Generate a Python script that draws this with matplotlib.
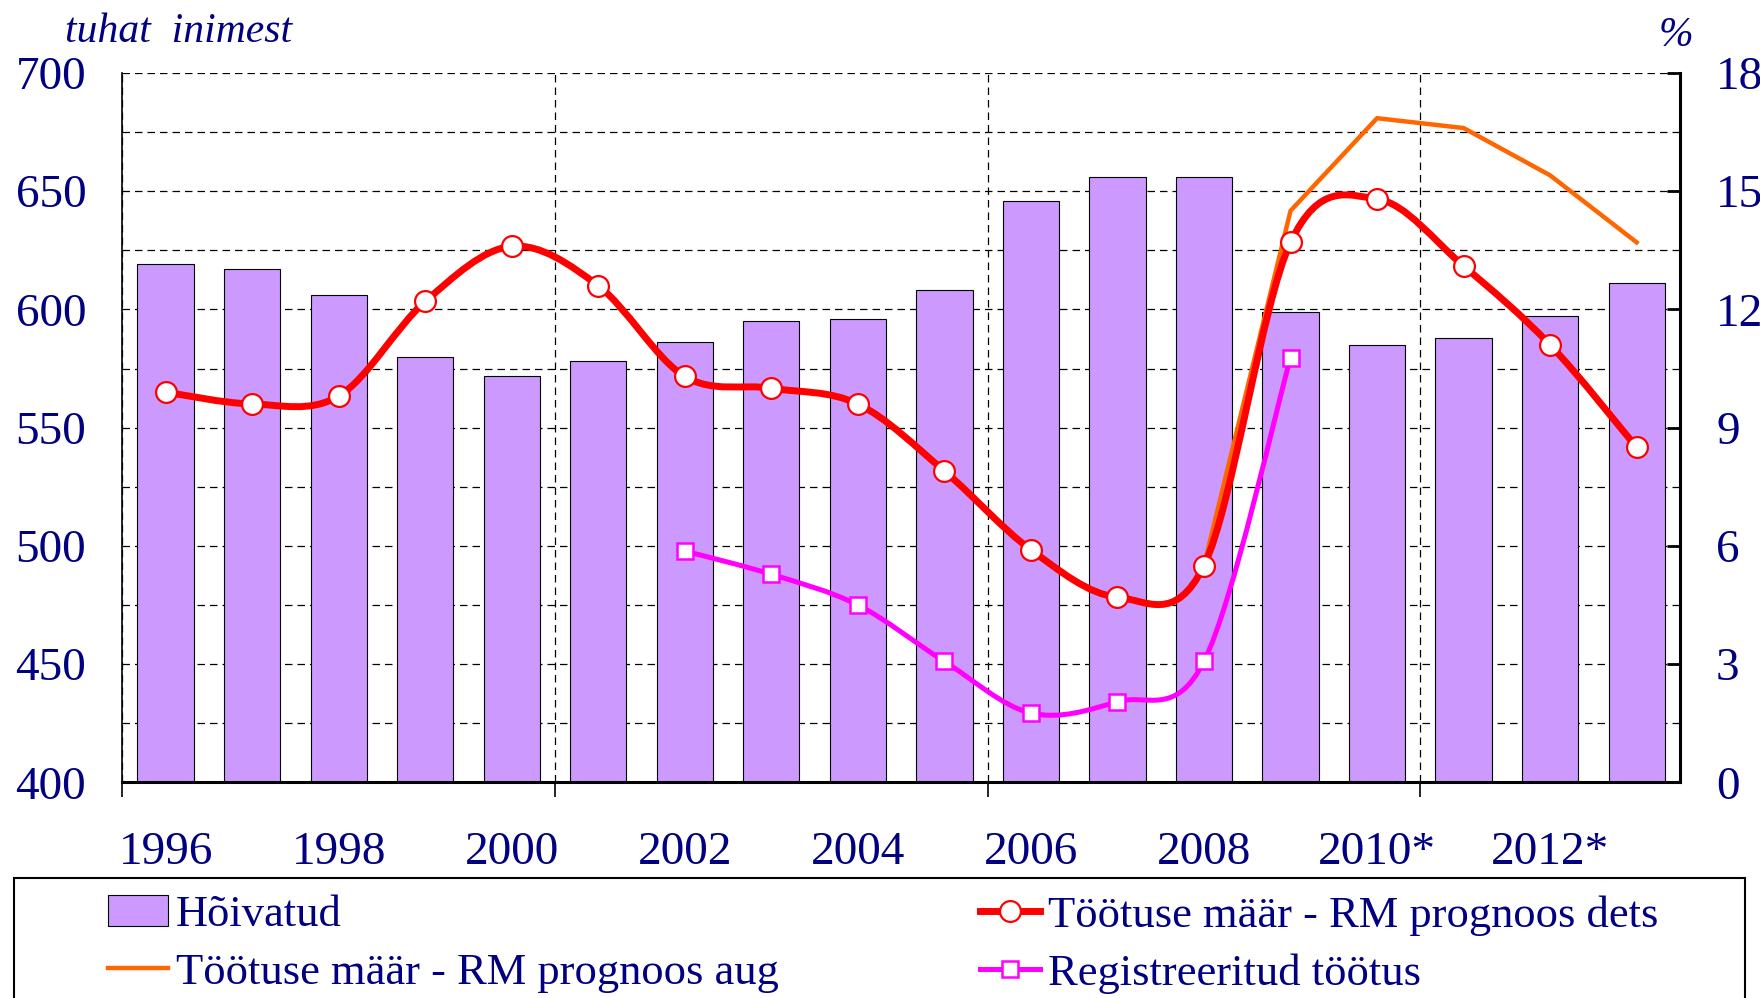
import numpy as np
import matplotlib
matplotlib.use('Agg')
import matplotlib.pyplot as plt
from matplotlib.path import Path
from matplotlib.patches import PathPatch, Rectangle
from matplotlib.lines import Line2D
from matplotlib.ticker import MultipleLocator, FixedLocator

plt.rcParams['font.family'] = ['Liberation Serif', 'DejaVu Serif']

# data
years = list(range(1996, 2014))
year_labels = ['1996', '', '1998', '', '2000', '', '2002', '', '2004', '',
               '2006', '', '2008', '', '2010*', '', '2012*', '']
employed = [619, 617, 606, 580, 572, 578, 586, 595, 596, 608,
            646, 656, 656, 599, 585, 588, 597, 611]            # tuhat inimest
unemp_dec = [9.9, 9.6, 9.8, 12.2, 13.6, 12.6, 10.3, 10.0, 9.6, 7.9,
             5.9, 4.7, 5.5, 13.7, 14.8, 13.1, 11.1, 8.5]        # %
aug_years = [2008, 2009, 2010, 2011, 2012, 2013]
unemp_aug = [5.5, 14.5, 16.85, 16.6, 15.4, 13.7]
reg_years = [2002, 2003, 2004, 2005, 2006, 2007, 2008, 2009]
registered = [5.87, 5.28, 4.5, 3.07, 1.76, 2.05, 3.07, 10.77]

NAVY = '#000080'
BAR = '#CC99FF'
RED = '#FF0000'
ORANGE = '#FF6600'
MAGENTA = '#FF00FF'
FS = 34      # tick labels
LFS = 32     # legend


def smooth_path(xs, ys):
    """Excel-style smoothed line: cubic bezier through the points."""
    pts = np.column_stack([xs, ys]).astype(float)
    n = len(pts)
    verts = [pts[0]]
    codes = [Path.MOVETO]
    for i in range(n - 1):
        p0 = pts[max(i - 1, 0)]
        p1 = pts[i]
        p2 = pts[i + 1]
        p3 = pts[min(i + 2, n - 1)]
        verts += [p1 + (p2 - p0) / 6, p2 - (p3 - p1) / 6, p2]
        codes += [Path.CURVE4] * 3
    return Path(verts, codes)


fig = plt.figure(figsize=(17.6, 9.98), dpi=100)
ax = fig.add_axes([0.0695, 0.216, 0.885, 0.711])
ax2 = ax.twinx()

x = np.arange(len(years))
ax.bar(x, employed, width=0.65, color=BAR, edgecolor='black', linewidth=0.8, zorder=2)
ax.set_xlim(-0.5, len(years) - 0.5)
ax.set_ylim(400, 700)
ax.set_axisbelow(True)

grid_style = dict(color='black', linestyle=(0, (6, 4)), linewidth=0.9)
ax.yaxis.set_major_locator(MultipleLocator(50))
ax.yaxis.set_minor_locator(MultipleLocator(25))
ax.grid(True, which='both', axis='y', **grid_style)
ax.xaxis.set_major_locator(FixedLocator(x))
ax.xaxis.set_minor_locator(FixedLocator([-0.5, 4.5, 9.5, 14.5]))
ax.grid(True, which='minor', axis='x', **grid_style)
ax.set_xticklabels(year_labels)

ax.tick_params(axis='x', which='major', length=0, pad=35, labelsize=FS, labelcolor=NAVY)
ax.tick_params(axis='x', which='minor', length=11, width=1.2, direction='out', color='black')
ax.tick_params(axis='y', which='both', length=0, pad=26, labelsize=FS, labelcolor=NAVY)

ax.spines['top'].set_visible(False)
ax2.spines['top'].set_visible(False)
ax.spines['left'].set_linewidth(1.2)
ax.spines['bottom'].set_linewidth(2.2)
ax2.spines['right'].set_linewidth(2.2)
ax2.spines['left'].set_visible(False)
ax2.spines['bottom'].set_visible(False)

ax2.set_ylim(0, 18)
ax2.yaxis.set_major_locator(MultipleLocator(3))
ax2.tick_params(axis='y', direction='in', length=9.5, width=2, pad=26,
                labelsize=FS, labelcolor=NAVY)
for lab in ax2.get_yticklabels():
    lab.set_horizontalalignment('left')

# percent series
xa = np.array(aug_years) - years[0]
ax2.plot(xa, unemp_aug, color=ORANGE, linewidth=3.2, zorder=3)

ax2.add_patch(PathPatch(smooth_path(x, unemp_dec), fill=False, edgecolor=RED,
                        linewidth=5, capstyle='round', joinstyle='round', zorder=4))
ax2.plot(x, unemp_dec, linestyle='none', marker='o', markersize=15,
         markerfacecolor='white', markeredgecolor=RED, markeredgewidth=1.6, zorder=5)

xr = np.array(reg_years) - years[0]
ax2.add_patch(PathPatch(smooth_path(xr, registered), fill=False, edgecolor=MAGENTA,
                        linewidth=3.6, capstyle='round', joinstyle='round', zorder=4))
ax2.plot(xr, registered, linestyle='none', marker='s', markersize=12,
         markerfacecolor='white', markeredgecolor=MAGENTA, markeredgewidth=1.8, zorder=5)

# axis unit labels
fig.text(65 / 1760, 1 - 42 / 998, 'tuhat  inimest', fontsize=30, style='italic',
         color=NAVY, va='baseline', ha='left')
fig.text(1659 / 1760, 1 - 46 / 998, '%', fontsize=30, style='italic',
         color=NAVY, va='baseline', ha='left')

# legend
h_bar = Rectangle((0, 0), 1, 1, facecolor=BAR, edgecolor='black', linewidth=0.8)
h_orange = Line2D([], [], color=ORANGE, linewidth=3.2)
h_red = Line2D([], [], color=RED, linewidth=5, marker='o', markersize=15,
               markerfacecolor='white', markeredgecolor=RED, markeredgewidth=1.6)
h_mag = Line2D([], [], color=MAGENTA, linewidth=3.6, marker='s', markersize=12,
               markerfacecolor='white', markeredgecolor=MAGENTA, markeredgewidth=1.8)

leg_opts = dict(loc='upper left', frameon=False, borderpad=0, borderaxespad=0,
                handlelength=1.35, handletextpad=0.18, labelspacing=0.4,
                prop={'size': LFS})
top = 1 - 895 / 998
leg1 = fig.legend([h_bar, h_orange], ['Hõivatud', 'Töötuse määr - RM prognoos aug'],
                  bbox_to_anchor=(108 / 1760, top), **leg_opts)
leg2 = fig.legend([h_red, h_mag], ['Töötuse määr - RM prognoos dets', 'Registreeritud töötus'],
                  bbox_to_anchor=(980 / 1760, top), **leg_opts)
for leg in (leg1, leg2):
    for t in leg.get_texts():
        t.set_color(NAVY)

fig.add_artist(Rectangle((13.5 / 1760, -0.1), (1745 - 13.5) / 1760, 0.1 + 1 - 878 / 998,
                         transform=fig.transFigure, fill=False, edgecolor='black',
                         linewidth=1.5, clip_on=False))

fig.savefig('out.png', dpi=100)
